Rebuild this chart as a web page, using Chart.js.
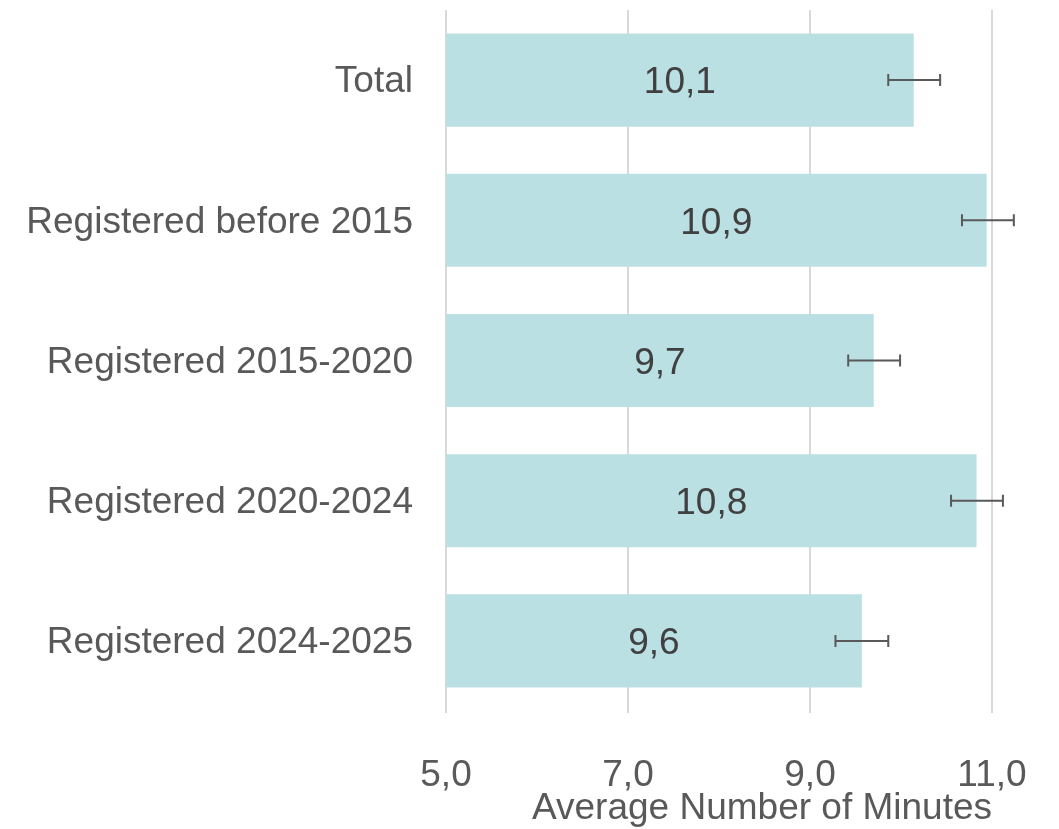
<!DOCTYPE html>
<html>
<head>
<meta charset="utf-8">
<script src="https://cdn.jsdelivr.net/npm/chart.js@4"></script>
<style>
  html, body { margin: 0; padding: 0; background: #fff; }
  #wrap { width: 1059px; height: 829px; }
</style>
</head>
<body>
<div id="wrap"><canvas id="minutesChart"></canvas></div>
<script>
    'use strict';

    // data
    const categories = ['Total', 'Registered before 2015', 'Registered 2015-2020', 'Registered 2020-2024', 'Registered 2024-2025'];
    const avgMinutes = [10.14, 10.94, 9.70, 10.83, 9.57];
    const errLow = [9.86, 10.67, 9.42, 10.55, 9.28];
    const errHigh = [10.43, 11.24, 9.99, 11.12, 9.86];
    const xTicks = [5, 7, 9, 11];

    const FONT = "'Liberation Sans', Arial, sans-serif";

    function fmtComma(v) {
        return v.toFixed(1).replace('.', ',');
    }

    // value labels in the middle of each bar
    const barLabels = {
        id: 'barLabels',
        afterDatasetsDraw(chart) {
            const ctx = chart.ctx;
            const left = chart.chartArea.left;
            const meta = chart.getDatasetMeta(0);
            ctx.save();
            ctx.font = '37px ' + FONT;
            ctx.fillStyle = '#404040';
            ctx.textAlign = 'center';
            ctx.textBaseline = 'middle';
            meta.data.forEach(function(bar, i) {
                const mid = (bar.x + Math.max(bar.base, left)) / 2;
                ctx.fillText(fmtComma(avgMinutes[i]), mid, bar.y + 3);
            });
            ctx.restore();
        }
    };

    // error bars drawn through the x scale
    const errorBars = {
        id: 'errorBars',
        afterDatasetsDraw(chart) {
            const ctx = chart.ctx;
            const xs = chart.scales.x;
            const meta = chart.getDatasetMeta(0);
            ctx.save();
            ctx.strokeStyle = '#595959';
            ctx.lineWidth = 2;
            meta.data.forEach(function(bar, i) {
                const x1 = xs.getPixelForValue(errLow[i]);
                const x2 = xs.getPixelForValue(errHigh[i]);
                const y = bar.y;
                ctx.beginPath();
                ctx.moveTo(x1, y); ctx.lineTo(x2, y);
                ctx.moveTo(x1, y - 6); ctx.lineTo(x1, y + 6);
                ctx.moveTo(x2, y - 6); ctx.lineTo(x2, y + 6);
                ctx.stroke();
            });
            ctx.restore();
        }
    };

    function noPad(scale) {
        scale.paddingTop = 0;
        scale.paddingBottom = 0;
        scale.paddingLeft = 0;
        scale.paddingRight = 0;
    }

    const ctx = document.getElementById('minutesChart');
    new Chart(ctx, {
        type: 'bar',
        data: {
            labels: categories,
            datasets: [{
                data: avgMinutes,
                backgroundColor: '#bbe0e3',
                borderWidth: 0,
                categoryPercentage: 1,
                barPercentage: 0.664
            }]
        },
        options: {
            indexAxis: 'y',
            responsive: true,
            maintainAspectRatio: false,
            animation: false,
            layout: { padding: { top: 10, right: 67, left: 0, bottom: 0 } },
            plugins: {
                legend: { display: false },
                tooltip: { enabled: false }
            },
            scales: {
                x: {
                    min: 5,
                    max: 11,
                    afterBuildTicks: function(scale) {
                        scale.ticks = xTicks.map(v => ({ value: v }));
                    },
                    afterFit: function(scale) { scale.height = 118; noPad(scale); },
                    border: { display: false },
                    grid: { color: '#d9d9d9', lineWidth: 2, drawTicks: true, tickLength: 2 },
                    ticks: {
                        padding: 41,
                        color: '#595959',
                        font: { family: FONT, size: 37 },
                        callback: function(value) { return fmtComma(value); }
                    },
                    title: {
                        display: true,
                        text: 'Average Number of Minutes',
                        align: 'end',
                        color: '#595959',
                        font: { family: FONT, size: 37 },
                        padding: { top: 0, bottom: -2 }
                    }
                },
                y: {
                    afterFit: function(scale) { scale.width = 446; noPad(scale); },
                    border: { display: false },
                    grid: { display: false, drawTicks: false },
                    ticks: {
                        padding: 33,
                        labelOffset: 2,
                        color: '#595959',
                        font: { family: FONT, size: 37 }
                    }
                }
            }
        },
        plugins: [barLabels, errorBars]
    });
</script>
</body>
</html>
